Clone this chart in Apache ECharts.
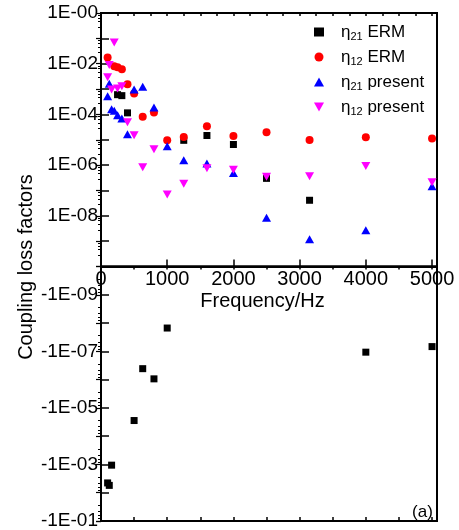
<!DOCTYPE html>
<html><head><meta charset="utf-8">
<script src="https://cdn.jsdelivr.net/npm/echarts@6/dist/echarts.min.js"></script>
<style>html,body{margin:0;padding:0;background:#fff}#c{width:459px;height:530px}</style>
</head><body><div id="c"></div>
<script>
// 1/3-octave band centre frequencies (Hz)
const freqs = [100,125,160,200,250,315,400,500,630,800,1000,1250,1600,2000,2500,3150,4000,5000];
// coupling loss factors (negative values belong to the lower panel)
const eta21ERM     = [-4.5e-3,-5.5e-3,-1.06e-3,null,6.0e-4,5.5e-4,1.15e-4,-2.8e-5,-4.1e-7,-9.4e-7,-1.5e-8,9.5e-6,1.47e-5,6.5e-6,3.0e-7,4.1e-8,-1.07e-7,-6.8e-8];
const eta12ERM     = [1.74e-2,null,null,8.0e-3,7.3e-3,6.1e-3,1.56e-3,6.7e-4,8.0e-5,1.19e-4,9.5e-6,1.29e-5,3.4e-5,1.41e-5,1.98e-5,9.8e-6,1.26e-5,1.11e-5];
const eta21Present = [5.2e-4,1.63e-3,1.6e-4,1.4e-4,9.3e-5,6.9e-5,1.65e-5,9.6e-4,1.22e-3,1.87e-4,5.5e-6,1.55e-6,1.15e-6,4.9e-7,8.4e-9,1.2e-9,2.7e-9,1.45e-7];
const eta12Present = [2.9e-3,8.8e-3,9.6e-4,6.8e-2,1.06e-3,1.30e-3,4.9e-5,1.5e-5,8.2e-7,4.2e-6,7.0e-8,1.86e-7,7.5e-7,6.6e-7,3.5e-7,3.6e-7,9.2e-7,2.1e-7];
const seriesNames = ['η21 ERM','η12 ERM','η21 present','η12 present'];
const xTickLabels = ['0','1000','2000','3000','4000','5000'];
const upperLabels = ['1E-00','1E-02','1E-04','1E-06','1E-08'];
const lowerLabels = ['-1E-09','-1E-07','-1E-05','-1E-03','-1E-01'];

const FONT = '"Liberation Sans", Arial, sans-serif';
const chart = echarts.init(document.getElementById('c'), null, {renderer:'canvas'});

function split(arr){
  const up=[], dn=[];
  arr.forEach((v,i)=>{ if(v==null) return; if(v>0) up.push([freqs[i],v]); else dn.push([freqs[i],-v]); });
  return {up, dn};
}
function expStr(v){ const e=Math.round(Math.log10(v)); return '1E-'+String(Math.abs(e)).padStart(2,'0'); }

const styles = [
  {symbol:'rect', size:7, color:'#000000'},
  {symbol:'circle', size:8, color:'#ff0000'},
  {symbol:'triangle', size:[9,8], color:'#0000ff'},
  {symbol:'path://M0,0L10,0L5,9Z', size:[9,8], color:'#ff00ff'}
];
const dataSets = [eta21ERM, eta12ERM, eta21Present, eta12Present];
const series = [];
dataSets.forEach((arr,k)=>{
  const s = split(arr), st = styles[k];
  const base = {type:'scatter', name:seriesNames[k], symbol:st.symbol, symbolSize:st.size,
    itemStyle:{color:st.color, opacity:1}, emphasis:{disabled:true}, silent:true, z:2+k};
  series.push(Object.assign({}, base, {xAxisIndex:0, yAxisIndex:0, data:s.up}));
  if (s.dn.length) series.push(Object.assign({}, base, {xAxisIndex:2, yAxisIndex:2, data:s.dn}));
});

const lineStyle = {color:'#000', width:2};
function xAx(grid, pos, interval, opts){
  return Object.assign({type:'value', gridIndex:grid, position:pos, min:0, max:5075, interval:interval,
    axisLine:{show:true, onZero:false, lineStyle}, splitLine:{show:false},
    axisTick:{show:true, inside:true, length:3, lineStyle:{color:'#000', width:1.5}},
    axisLabel:{show:false}}, opts||{});
}
function yAx(grid, pos, min, max, inverse, opts){
  return Object.assign({type:'log', logBase:10, gridIndex:grid, position:pos, min:min, max:max, inverse:inverse,
    splitNumber:10, axisLine:{show:true, lineStyle}, splitLine:{show:false},
    axisTick:{show:true, inside:true, length:8, lineStyle:{color:'#000', width:1.5}},
    minorTick:{show:false}, axisLabel:{show:false}}, opts||{});
}
// slightly above 1e-10 so the log scale picks one-decade tick steps
const UPPER_MIN = 1.001e-10;

const option = {
  backgroundColor:'#fff',
  animation:false,
  textStyle:{fontFamily:FONT},
  grid:[
    {left:101, top:13, width:336, height:253.5, show:true, borderColor:'#000', borderWidth:2, containLabel:false, outerBoundsMode:'none'},
    {left:101, top:266.5, width:336, height:254.5, show:true, borderColor:'#000', borderWidth:2, containLabel:false, outerBoundsMode:'none'}
  ],
  xAxis:[
    xAx(0,'bottom',1000,{axisTick:{show:true, inside:true, length:7, lineStyle:{color:'#000', width:1.5}},
      axisLabel:{show:true, margin:3, fontSize:20, color:'#000', fontFamily:FONT, showMinLabel:true, showMaxLabel:true,
        formatter:v=>{const s=String(Math.round(v)); return xTickLabels.includes(s)?s:'';}}}),
    xAx(0,'top',250),
    xAx(1,'bottom',500,{axisTick:{show:true, inside:true, length:4, lineStyle:{color:'#000', width:1.5}}}),
    xAx(1,'top',500)
  ],
  yAxis:[
    yAx(0,'left',UPPER_MIN,1,false,{axisLabel:{show:true, margin:3, fontSize:19, color:'#000', fontFamily:FONT, showMinLabel:true, showMaxLabel:true,
      formatter:v=>{const s=expStr(v); return upperLabels.includes(s)?s:'';}}}),
    yAx(0,'right',UPPER_MIN,1,false,{axisTick:{show:true, inside:true, length:5, lineStyle:{color:'#000', width:1.2}},
      minorTick:{show:true, splitNumber:5, length:3, lineStyle:{color:'#000', width:1}}}),
    yAx(1,'left',1e-10,1e-1,true,{axisLabel:{show:true, margin:3, fontSize:19, color:'#000', fontFamily:FONT, showMinLabel:true, showMaxLabel:true,
      formatter:v=>{const s='-'+expStr(v); return lowerLabels.includes(s)?s:'';}}}),
    yAx(1,'right',1e-10,1e-1,true,{axisTick:{show:true, inside:true, length:5, lineStyle:{color:'#000', width:1.2}},
      minorTick:{show:true, splitNumber:5, length:3, lineStyle:{color:'#000', width:1}}})
  ],
  legend:{
    show:true, orient:'vertical', left:309, top:17, itemWidth:10, itemHeight:9, itemGap:5,
    data:seriesNames, selectedMode:false,
    formatter:name=>{const m=name.match(/^η(\d\d)(.*)$/); return '{sp| }{e|η}{s|'+m[1]+'}{e|'+m[2]+'}';},
    textStyle:{color:'#000', fontFamily:FONT, fontSize:17,
      rich:{
        sp:{width:12, fontSize:17, fontFamily:FONT},
        e:{fontSize:17, fontFamily:FONT, color:'#000', lineHeight:20},
        s:{fontSize:11, fontFamily:FONT, color:'#000', padding:[9,0,0,0], lineHeight:20}
      }}
  },
  graphic:[
    {type:'text', x:262.5, y:301.5, style:{text:'Frequency/Hz', font:'20px '+FONT, fill:'#000', textAlign:'center', textVerticalAlign:'middle'}},
    {type:'text', x:26, y:267, rotation:Math.PI/2, style:{text:'Coupling loss factors', font:'20px '+FONT, fill:'#000', textAlign:'center', textVerticalAlign:'middle'}},
    {type:'text', x:422.5, y:512, style:{text:'(a)', font:'17px '+FONT, fill:'#000', textAlign:'center', textVerticalAlign:'middle'}}
  ],
  series:series
};
chart.setOption(option);
</script></body></html>
